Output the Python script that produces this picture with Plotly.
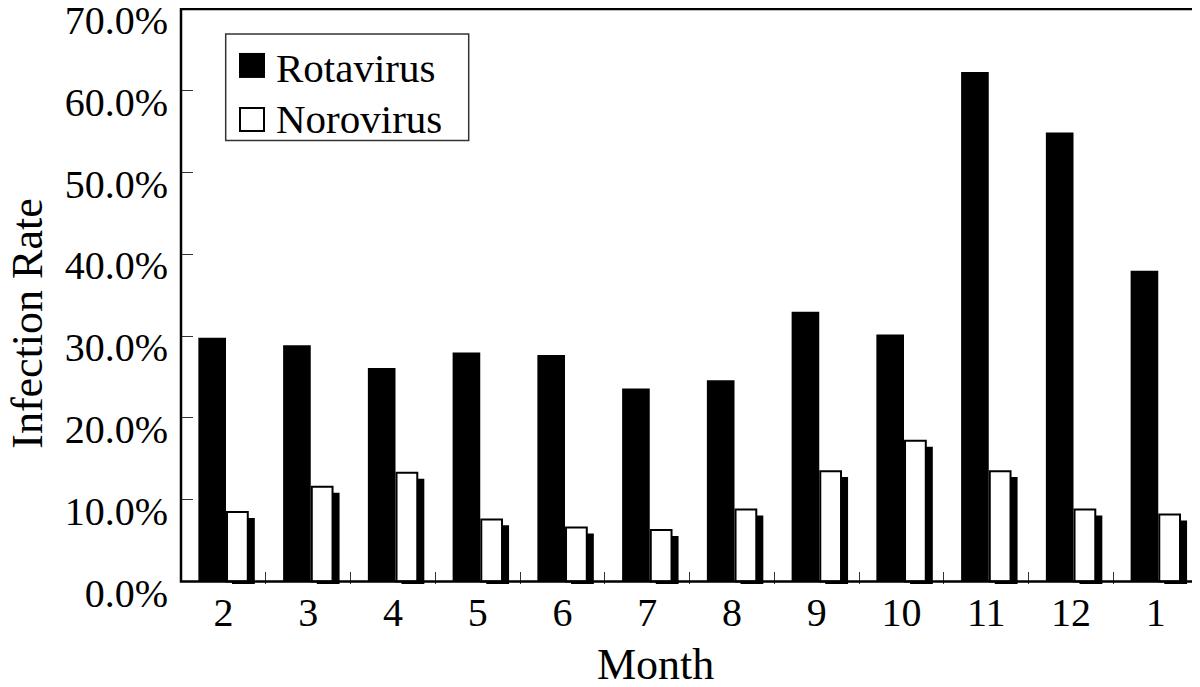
import plotly.graph_objects as go

months = ["2", "3", "4", "5", "6", "7", "8", "9", "10", "11", "12", "1"]
rotavirus = [29.8, 28.9, 26.1, 28.0, 27.7, 23.6, 24.6, 33.0, 30.2, 62.3, 54.9, 38.0]
norovirus = [8.5, 11.6, 13.3, 7.6, 6.6, 6.3, 8.8, 13.5, 17.2, 13.5, 8.8, 8.2]
series_names = ["Rotavirus", "Norovirus"]
y_ticks = [0, 10, 20, 30, 40, 50, 60, 70]
y_ticktext = ["0.0%", "10.0%", "20.0%", "30.0%", "40.0%", "50.0%", "60.0%", "70.0%"]
x_title = "Month"
y_title = "Infection Rate"

FONT = "Liberation Serif, Times New Roman, serif"
OFF = 8  # default page body margin in the browser
W, H = 1200 - OFF, 687 - OFF
L, R, T, B = 181 - OFF, 2, 1, 102.5
YMIN, YMAX = -0.3, 70
shadow_dy = 0.73  # percent units (~6 px)

plot_w = W - L - R
plot_h = H - T - B


def px_x(px):
    return (px - OFF - L) / plot_w


def px_y(py):
    return (H - B - (py - OFF)) / plot_h


fig = go.Figure()
fig.add_trace(go.Bar(
    x=months, y=rotavirus, name=series_names[0],
    offset=-0.295, width=0.326,
    marker=dict(color="black", line=dict(width=0)),
    showlegend=False,
))
fig.add_trace(go.Bar(
    x=months, y=norovirus, base=[-shadow_dy] * len(norovirus),
    name="shadow", offset=0.102, width=0.269,
    marker=dict(color="black", line=dict(width=0)),
    showlegend=False, hoverinfo="skip",
))
fig.add_trace(go.Bar(
    x=months, y=norovirus, name=series_names[1],
    offset=0.043, width=0.245,
    marker=dict(color="white", line=dict(color="black", width=2)),
    showlegend=False,
))

y0_paper = (0 - YMIN) / (YMAX - YMIN)
shapes = [
    dict(type="rect", xref="paper", yref="paper", x0=0, x1=1, y0=y0_paper, y1=1,
         line=dict(color="black", width=2.5), fillcolor="rgba(0,0,0,0)", layer="above"),
    dict(type="rect", xref="paper", yref="paper", x0=px_x(225.7), x1=px_x(468.7),
         y0=px_y(140.7), y1=px_y(34), line=dict(color="#333", width=1.5),
         fillcolor="white", layer="above"),
    dict(type="rect", xref="paper", yref="paper", x0=px_x(239), x1=px_x(265),
         y0=px_y(78), y1=px_y(53), line=dict(color="black", width=0),
         fillcolor="black", layer="above"),
    dict(type="rect", xref="paper", yref="paper", x0=px_x(240), x1=px_x(264),
         y0=px_y(131), y1=px_y(108), line=dict(color="black", width=2),
         fillcolor="white", layer="above"),
]

annotations = [
    dict(text=series_names[0], xref="paper", yref="paper", x=px_x(274), y=px_y(68),
         xanchor="left", yanchor="middle", showarrow=False,
         font=dict(family=FONT, size=41, color="black")),
    dict(text=series_names[1], xref="paper", yref="paper", x=px_x(274), y=px_y(119),
         xanchor="left", yanchor="middle", showarrow=False,
         font=dict(family=FONT, size=41, color="black")),
    dict(text=x_title, xref="paper", yref="paper", x=px_x(655), y=px_y(665),
         xanchor="center", yanchor="middle", showarrow=False,
         font=dict(family=FONT, size=44, color="black")),
    dict(text=y_title, xref="paper", yref="paper", x=px_x(28), y=px_y(324),
         xanchor="center", yanchor="middle", showarrow=False, textangle=-90,
         font=dict(family=FONT, size=44, color="black")),
]

fig.update_layout(
    width=W, height=H,
    margin=dict(l=L, r=R, t=T, b=B, pad=0, autoexpand=False),
    paper_bgcolor="white", plot_bgcolor="white",
    barmode="overlay",
    showlegend=False,
    shapes=shapes,
    annotations=annotations,
    xaxis=dict(
        type="category", categoryorder="array", categoryarray=months,
        range=[-0.5, 11.5], tickson="boundaries", automargin=False,
        ticks="inside", ticklen=12, tickwidth=1, tickcolor="#333",
        showgrid=False, zeroline=False, showline=False,
        tickfont=dict(family=FONT, size=40, color="black"),
        ticklabelstandoff=1,
    ),
    yaxis=dict(
        range=[YMIN, YMAX], tickvals=y_ticks, ticktext=y_ticktext,
        automargin=False,
        ticks="inside", ticklen=12, tickwidth=1, tickcolor="#333",
        showgrid=False, zeroline=False, showline=False,
        tickfont=dict(family=FONT, size=40, color="black"),
        ticklabelstandoff=12, ticklabelshift=11, ticklabeloverflow="allow",
    ),
)

fig.write_html("out.html")
